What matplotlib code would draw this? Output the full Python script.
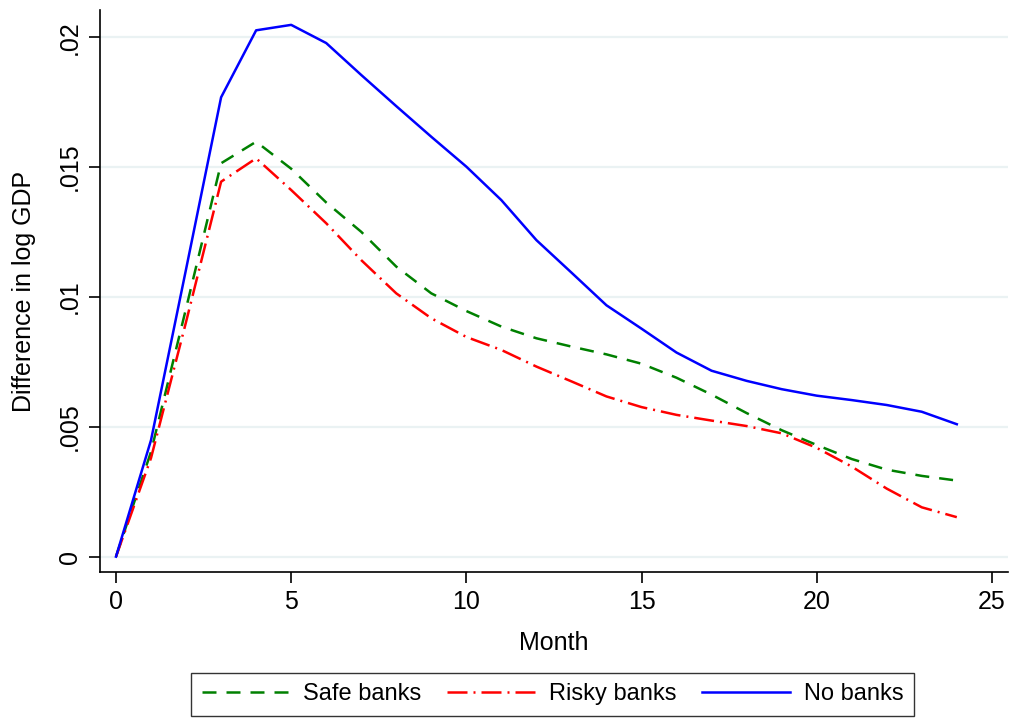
import matplotlib
matplotlib.use("Agg")
import matplotlib.pyplot as plt
import numpy as np

# data
months = list(range(0, 25))
safe_banks = [0.0, 0.00404, 0.00956, 0.01515, 0.01598, 0.01494, 0.01364, 0.01251, 0.01117,
              0.01014, 0.00946, 0.00886, 0.00841, 0.00809, 0.00779, 0.00743, 0.00689,
              0.00624, 0.00553, 0.00487, 0.00430, 0.00376, 0.00335, 0.00311, 0.00293]
risky_banks = [0.0, 0.00380, 0.00904, 0.01444, 0.01534, 0.01412, 0.01284, 0.01142, 0.01014,
               0.00918, 0.00846, 0.00796, 0.00732, 0.00675, 0.00617, 0.00576, 0.00546,
               0.00524, 0.00503, 0.00475, 0.00419, 0.00347, 0.00262, 0.00190, 0.00152]
no_banks = [0.0, 0.00449, 0.01107, 0.01769, 0.02027, 0.02048, 0.01978, 0.01855, 0.01735,
            0.01617, 0.01502, 0.01373, 0.01219, 0.01094, 0.00968, 0.00878, 0.00786,
            0.00716, 0.00677, 0.00645, 0.00620, 0.00603, 0.00584, 0.00558, 0.00510]

yticks = [0, 0.005, 0.01, 0.015, 0.02]
yticklabels = ["0", ".005", ".01", ".015", ".02"]
xticks = [0, 5, 10, 15, 20, 25]

plt.rcParams["font.family"] = ["Liberation Sans", "DejaVu Sans"]
plt.rcParams["font.size"] = 18

fig = plt.figure(figsize=(10.12, 7.19), dpi=100)
ax = fig.add_axes([0.0988, 0.2045, 0.8972, 0.7815])

ax.plot(months, safe_banks, color="#008000", lw=1.8, linestyle=(0, (5.6, 4.0)), label="Safe banks")
ax.plot(months, risky_banks, color="#ff0000", lw=1.8, linestyle=(0, (8.0, 2.4, 0.8, 2.4)), label="Risky banks")
ax.plot(months, no_banks, color="#0000ff", lw=1.8, label="No banks")

ax.set_xlim(-0.457, 25.46)
ax.set_ylim(-0.00059, 0.02105)
ax.set_xticks(xticks)
ax.set_yticks(yticks)
ax.set_yticklabels(yticklabels, rotation=90, va="center")
ax.grid(axis="y", color="#eaf2f3", lw=1.6)
ax.set_axisbelow(True)
for s in ["top", "right"]:
    ax.spines[s].set_visible(False)
ax.spines["left"].set_linewidth(1.2)
ax.spines["bottom"].set_linewidth(1.2)
ax.tick_params(direction="out", length=8, width=1.2, pad=5)

ax.set_xlabel("Month", labelpad=12)
ax.set_ylabel("Difference in log GDP", labelpad=16)

leg = fig.legend(loc="lower center", bbox_to_anchor=(0.546, -0.012), ncol=3,
                 frameon=True, fancybox=False, edgecolor="black", handlelength=3.7,
                 handletextpad=0.6, columnspacing=1.1, fontsize=17, borderpad=0.45)
leg.get_frame().set_linewidth(1.0)

fig.savefig("out.png", dpi=100)
